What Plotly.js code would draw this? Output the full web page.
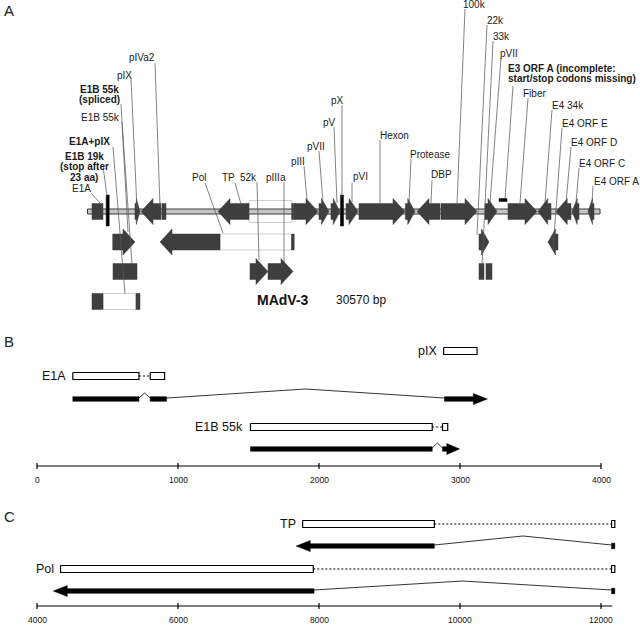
<!DOCTYPE html>
<html><head><meta charset="utf-8">
<script src="https://cdn.plot.ly/plotly-3.0.1.min.js"></script>
<style>html,body{margin:0;padding:0;background:#fff}#chart{width:640px;height:627px}</style>
</head><body><div id="chart"></div>
<script>
// ================= DATA =================
const genomeName = 'MAdV-3';
const genomeLength = 30570;

// ---- Panel A: genome map features (bp) ----
const featName  = ['E1A','E1B 19k','pIX','pIVa2','pIVa2 exon','TP','TP intron','TP exon','pIII','pVII','pV','pX','pVI','Hexon','Protease','DBP','100k','pVIII','E3 ORF A','Fiber','E4 34k','E4 ORF D','E4 ORF C','E4 ORF A',
                   'E1B 55k (spliced)','Pol','Pol intron','Pol exon','22k','E4 ORF E',
                   'E1B 55k','52k','pIIIa','33k exon 1','33k exon 2',
                   'E1A+pIX exon 1','E1A+pIX intron','E1A+pIX exon 2'];
const featStart = [268,1205,2833,3192,4444,7784,9634,12180,12288,13809,14524,15180,15419,16195,18960,19654,21086,23710,24546,25082,26871,27945,28900,29855,
                   1503,4325,7904,12170,23352,27468,
                   1521,9693,10767,23352,23769,
                   268,925,2893];
const featEnd   = [925,1205,3132,4384,4683,9634,12180,12270,13749,14405,15061,15180,16135,18939,19535,21026,23233,24426,25023,26812,27647,28840,29318,30213,
                   2833,7904,12170,12330,23949,28065,
                   2952,10767,12258,23650,24127,
                   925,2893,3132];
const featKind  = ['box','bar','fwd','rev','box','rev','light','box','fwd','fwd','fwd','bar','fwd','fwd','fwd','rev','fwd','fwd','dash','fwd','rev','rev','rev','rev',
                   'fwd','rev','light','box','fwd','rev',
                   'box','fwd','fwd','box','box',
                   'box','light','box'];
const featRow   = [0,0,0,0,0,0,0,0,0,0,0,0,0,0,0,0,0,0,0,0,0,0,0,0,
                   1,1,1,1,1,1,
                   2,2,2,2,2,
                   3,3,3];

// ---- Panel A: labels ----
const labelText = ['pIVa2','pIX','E1B 55k\n(spliced)','E1B 55k','E1A+pIX','E1B 19k\n(stop after\n23 aa)','E1A',
                   'Pol','TP','52k','pIIIa','pIII','pVII','pV','pX','pVI','Hexon','Protease','DBP',
                   '100k','22k','33k','pVII','E3 ORF A (incomplete:\nstart/stop codons missing)','Fiber',
                   'E4 34k','E4 ORF E','E4 ORF D','E4 ORF C','E4 ORF A'];
const labelBold = [0,0,1,0,1,1,0, 0,0,0,0,0,0,0,0,0,0,0,0, 0,0,0,0,1,0, 0,0,0,0,0];

// ---- Panel B (bp 0-4000) ----
const bTicks = [0,1000,2000,3000,4000];
const bAxisSpan = [0,4000];
const pIX_cds    = [[2884,3121]];
const E1A_cds    = [[254,723],[803,905]];
const E1A_tx     = [[254,723],[803,919],[2890,3194]];
const E1B55k_cds = [[1514,2803],[2876,2913]];
const E1B55k_tx  = [[1514,2803],[2876,2997]];

// ---- Panel C (bp 4000-12000) ----
const cTicks = [4000,6000,8000,10000,12000];
const cAxisSpan = [4000,12160];
const TP_cds  = [[7768,9636],[12150,12196]];
const TP_tx   = [[7677,9636],[12150,12196]];
const Pol_cds = [[4334,7919],[12150,12196]];
const Pol_tx  = [[4231,7930],[12150,12196]];

// ================= LAYOUT / STYLE =================
const W = 640, H = 627;
const FONT = 'Liberation Sans, Arial, Helvetica, sans-serif';
const DARK = '#3e3e3e';
const sA = 512.5 / genomeLength, pxA0 = 87.5;
const sB = 564 / 4000, pxB0 = 37, bpB0 = 0;
const sC = 564 / 8000, pxC0 = 37, bpC0 = 4000;
const pxToA = px => (px - pxA0) / sA;

const rowY = [211.5, 242, 271.5, 301.5];
// label layout: [textX, textY, anchor, lineX0, lineY0, lineX1, lineY1] (pixels)
const labelLayout = [
  [142, 57,'center',155,63,160,206],
  [124, 75,'center',131,79,137,209],
  [99, 89,'center',121,104,128,232],
  [100,117,'center',122,122,132,265],
  [89,141,'center',113,147,125,294],
  [84,156,'center',103,166,107,196],
  [81,188,'center',91,193,100,203],
  [199,177,'center',205,183,223,233],
  [228,177,'center',235,183,241,204],
  [248,177,'center',257,182,259,260],
  [276,177,'center',284,182,284,262],
  [298,161,'center',304,166,307,200],
  [316,146,'center',319,151,323,203],
  [329,122,'center',334,127,337,203],
  [337,100,'center',342,105,342,198],
  [360,176,'center',352,183,352,202],
  [394,135,'center',380,140,380,203],
  [430,154,'center',411,159,409,203],
  [441,174,'center',432,180,431,203],
  [474,4,'center',465,9,457,203],
  [495,20,'center',487,25,477,235],
  [501,36,'center',493,41,482,266],
  [509,53,'center',501,58,490,203],
  [506,68,'left',513,86,505,199],
  [534,93,'center',528,98,520,203],
  [568,105,'center',552,110,545,203],
  [585,123,'center',562,128,553,250],
  [594,142,'center',571,147,566,203],
  [602,163,'center',579,168,576,203],
  [616,181,'center',593,186,592,203]
];

const traces = [], ann = [];
function poly(xa, xs, ys, fill, lc, lw){
  traces.push({type:'scatter', mode:'lines', xaxis:xa, yaxis:'y', x:xs, y:ys, fill:'toself',
    fillcolor:fill, line:{color:lc, width:lw}, hoverinfo:'skip', showlegend:false});
}
function pline(xa, xs, ys, color, width, dash){
  traces.push({type:'scatter', mode:'lines', xaxis:xa, yaxis:'y', x:xs, y:ys,
    line:{color:color, width:width, dash:dash||'solid'}, hoverinfo:'skip', showlegend:false});
}
function rect(xa,x0,x1,y0,y1,fill,lc,lw){ poly(xa,[x0,x1,x1,x0,x0],[y0,y0,y1,y1,y0],fill,lc,lw); }
function arrow(xa, s, e, y, strand, hl, bh, hh, color){
  const h = Math.min(hl, 0.75*(e-s));
  if (strand > 0){
    const hb = e - h;
    poly(xa,[s,hb,hb,e,hb,hb,s,s],[y-bh,y-bh,y-hh,y,y+hh,y+bh,y+bh,y-bh],color,color,0.5);
  } else {
    const hb = s + h;
    poly(xa,[e,hb,hb,s,hb,hb,e,e],[y-bh,y-bh,y-hh,y,y+hh,y+bh,y+bh,y-bh],color,color,0.5);
  }
}
function txt(xref, x, y, t, size, anchor, bold, color){
  ann.push({xref:xref, yref:'y', x:x, y:y, text: bold ? '<b>'+t+'</b>' : t, showarrow:false,
    xanchor:anchor||'center', yanchor:'middle', font:{family:FONT, size:size, color:color||'#111'}});
}

// ================= PANEL A =================
for (let i=0;i<featName.length;i++){
  if (featKind[i] !== 'light') continue;
  const y = rowY[featRow[i]], hh = featRow[i]===0 ? 11 : 8;
  rect('x', featStart[i], featEnd[i], y-hh, y+hh, '#ffffff', '#cfcfcf', 1);
}
rect('x', 0, genomeLength, rowY[0]-2.5, rowY[0]+2.5, '#c6c6c6', '#3a3a3a', 1);
for (let i=0;i<featName.length;i++){
  const y = rowY[featRow[i]], k = featKind[i];
  if (k==='fwd') arrow('x', featStart[i], featEnd[i], y, 1, 12/sA, 8, 13, DARK);
  else if (k==='rev') arrow('x', featStart[i], featEnd[i], y, -1, 12/sA, 8, 13, DARK);
  else if (k==='box') rect('x', featStart[i], featEnd[i], y-8, y+8, DARK, DARK, 0.5);
  else if (k==='bar') rect('x', featStart[i]-1.5/sA, featEnd[i]+1.5/sA, y-16.5, y+14.5, '#000', '#000', 0.5);
  else if (k==='dash') rect('x', featStart[i], featEnd[i], y-13, y-10, '#000', '#000', 0.5);
}
for (let i=0;i<labelText.length;i++){
  const L = labelLayout[i];
  pline('x', [pxToA(L[3]), pxToA(L[5])], [L[4], L[6]], '#5a5a5a', 0.75);
  const lines = labelText[i].split('\n');
  lines.forEach((t,j)=>{
    ann.push({xref:'paper', yref:'y', x:L[0]/W, y:L[1]+j*10.5, text: labelBold[i]?'<b>'+t+'</b>':t,
      showarrow:false, xanchor:L[2], yanchor:'middle', font:{family:FONT, size:10, color:'#1a1a1a'}});
  });
}
txt('paper', 283/W, 300, genomeName, 14, 'center', true, '#111');
txt('paper', 361/W, 300, genomeLength + ' bp', 12, 'center', false, '#111');

// ================= PANELS B & C =================
function cdsRow(xa, s, cds, y, label){
  for (let i=0;i<cds.length;i++){
    rect(xa, cds[i][0], cds[i][1], y-3.5, y+3.5, '#ffffff', '#000', 1.2);
    if (i < cds.length-1) pline(xa, [cds[i][1], cds[i+1][0]], [y,y], '#000', 1.2, '2px,2px');
  }
  if (label) txt(xa, cds[0][0] - 5/s, y, label, 12.5, 'right', false, '#111');
}
function txRow(xa, s, ex, y, strand){
  const hl = 14/s;
  for (let i=0;i<ex.length;i++){
    let a = ex[i][0], b = ex[i][1];
    const small = (b-a)*s < 6;
    if (small){ rect(xa, a, b, y-2.8, y+2.8, '#000', '#000', 0.5); }
    else if (strand>0 && i===ex.length-1){ arrow(xa, a, b, y, 1, hl, 2.3, 5.5, '#000'); }
    else if (strand<0 && i===0){ arrow(xa, a, b, y, -1, hl, 2.3, 5.5, '#000'); }
    else rect(xa, a, b, y-2.3, y+2.3, '#000', '#000', 0.5);
    if (i < ex.length-1){
      const e0 = ex[i][1], s1 = ex[i+1][0], mid = (e0+s1)/2;
      const h = (s1-e0)*s < 30 ? 5 : 9;
      pline(xa, [e0, mid, s1], [y-1, y-1-h, y-1], '#000', 0.8);
    }
  }
}
function axisRow(xa, span, ticks, y){
  pline(xa, span, [y,y], '#000', 1.2);
  ticks.forEach(t=>{
    pline(xa, [t,t], [y-3, y+3], '#000', 1.2);
    txt(xa, t, y+14, String(t), 8.5, 'center', false, '#111');
  });
}
cdsRow('x2', sB, pIX_cds, 351, 'pIX');
cdsRow('x2', sB, E1A_cds, 376, 'E1A');
txRow('x2', sB, E1A_tx, 399, 1);
cdsRow('x2', sB, E1B55k_cds, 427, 'E1B 55k');
txRow('x2', sB, E1B55k_tx, 449, 1);
axisRow('x2', bAxisSpan, bTicks, 466);

cdsRow('x3', sC, TP_cds, 524, 'TP');
txRow('x3', sC, TP_tx, 546, -1);
cdsRow('x3', sC, Pol_cds, 569, 'Pol');
txRow('x3', sC, Pol_tx, 591, -1);
axisRow('x3', cAxisSpan, cTicks, 606);

txt('paper', 9/W, 10, 'A', 15, 'center', false, '#222');
txt('paper', 9/W, 341, 'B', 15, 'center', false, '#222');
txt('paper', 9/W, 516, 'C', 15, 'center', false, '#222');

const hidden = {visible:false, fixedrange:true, showgrid:false, zeroline:false};
const layout = {
  width: W, height: H, margin:{l:0,r:0,t:0,b:0}, paper_bgcolor:'#fff', plot_bgcolor:'rgba(0,0,0,0)',
  showlegend:false,
  xaxis:  Object.assign({range:[-pxA0/sA, (W-pxA0)/sA], domain:[0,1]}, hidden),
  xaxis2: Object.assign({range:[bpB0 - pxB0/sB, bpB0 + (W-pxB0)/sB], overlaying:'x'}, hidden),
  xaxis3: Object.assign({range:[bpC0 - pxC0/sC, bpC0 + (W-pxC0)/sC], overlaying:'x'}, hidden),
  yaxis:  Object.assign({range:[H,0], domain:[0,1]}, hidden),
  annotations: ann
};
Plotly.newPlot('chart', traces, layout, {displayModeBar:false, staticPlot:true});
</script></body></html>
